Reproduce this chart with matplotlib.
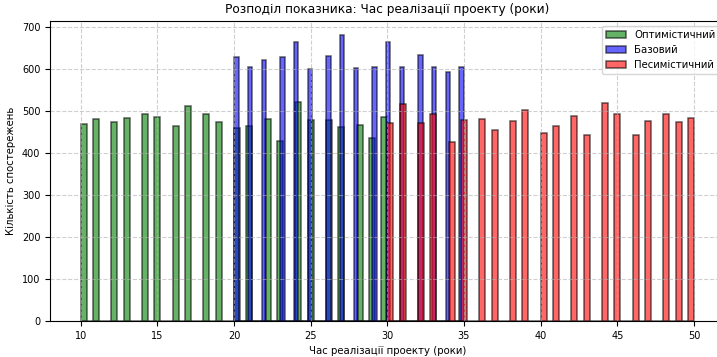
import matplotlib
matplotlib.use('Agg')
import matplotlib.pyplot as plt

# observed counts per year value for each scenario
opt_years = list(range(10, 31))
opt_counts = [469, 480, 474, 482, 492, 485, 464, 512, 491, 474, 459,
              464, 480, 429, 520, 477, 477, 462, 467, 436, 485]

base_years = list(range(20, 36))
base_counts = [628, 604, 620, 628, 663, 598, 629, 679, 602, 604, 663,
               604, 632, 604, 592, 604]

pess_years = list(range(30, 51))
pess_counts = [470, 517, 470, 492, 425, 477, 480, 455, 476, 501, 448,
               464, 488, 442, 518, 492, 442, 476, 492, 474, 482]

fig = plt.figure(figsize=(7.17, 3.57), dpi=100)
ax = fig.add_axes([0.0697, 0.1008, 0.941, 0.840])

ax.hist(opt_years, bins=50, weights=opt_counts, alpha=0.6, color='green',
        edgecolor='black', linewidth=1.1, label='Оптимістичний')
ax.hist(base_years, bins=50, weights=base_counts, alpha=0.6, color='blue',
        edgecolor='black', linewidth=1.1, label='Базовий')
ax.hist(pess_years, bins=50, weights=pess_counts, alpha=0.6, color='red',
        edgecolor='black', linewidth=1.1, label='Песимістичний')

ax.set_title('Розподіл показника: Час реалізації проекту (роки)', fontsize=8.75)
ax.set_xlabel('Час реалізації проекту (роки)', fontsize=7.3)
ax.set_ylabel('Кількість спостережень', fontsize=7.3)
ax.tick_params(labelsize=7)
ax.grid(True, linestyle='--', alpha=0.6)
ax.legend(fontsize=7.3, loc='upper right')

fig.savefig('out.png', dpi=100)
